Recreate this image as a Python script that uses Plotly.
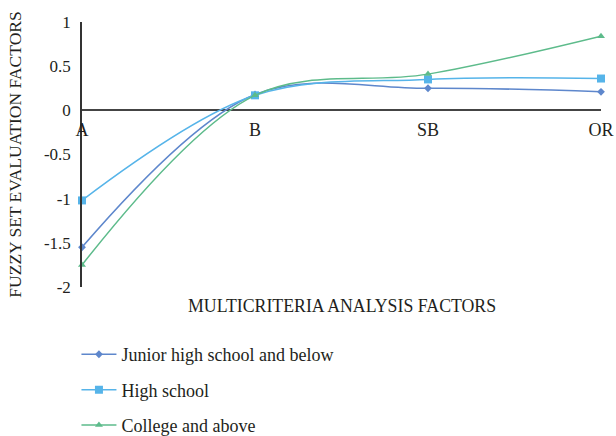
import plotly.graph_objects as go

categories = ["A", "B", "SB", "OR"]
junior = [-1.55, 0.18, 0.25, 0.21]
high_school = [-1.02, 0.17, 0.35, 0.36]
college = [-1.75, 0.17, 0.41, 0.84]

series_names = ["Junior high school and below", "High school", "College and above"]
y_tickvals = [1, 0.5, 0, -0.5, -1, -1.5, -2]
y_ticktext = ["1", "0.5", "0", "-0.5", "-1", "-1.5", "-2"]

colors = ["#5E87CC", "#56B4E9", "#5DBB8B"]
symbols = ["diamond", "square", "triangle-up"]
sizes = [6, 8, 7]
FONT = "Liberation Serif, Times New Roman, serif"
TXT = "#231F20"

fig = go.Figure()
for i, (name, vals) in enumerate(zip(series_names, [junior, high_school, college])):
    fig.add_trace(go.Scatter(
        x=categories, y=vals, name=name, mode="lines+markers",
        line=dict(color=colors[i], width=1.5, shape="spline", smoothing=1.0),
        marker=dict(color=colors[i], symbol=symbols[i], size=sizes[i]),
        legendgroup=f"g{i}", cliponaxis=False,
    ))

fig.update_layout(
    width=616, height=436,
    margin=dict(l=82, r=15, t=22, b=149, autoexpand=False),
    paper_bgcolor="white", plot_bgcolor="white",
    font=dict(family=FONT, size=17, color=TXT),
    showlegend=True,
    legend=dict(x=-0.0107, y=-0.185, xanchor="left", yanchor="top",
                orientation="v", tracegroupgap=9, itemwidth=35,
                font=dict(family=FONT, size=18, color=TXT),
                bgcolor="rgba(0,0,0,0)"),
    xaxis=dict(type="category", range=[0, 3], showgrid=False, showline=False,
               zeroline=False, ticks="", anchor="free", position=2/3,
               automargin=False,
               tickfont=dict(family=FONT, size=18, color=TXT),
               ticklabelstandoff=7),
    yaxis=dict(range=[-2, 1], domain=[0, 1], tickvals=y_tickvals, ticktext=y_ticktext,
               automargin=False,
               showgrid=False, showline=True, linecolor="#333333", linewidth=1.5,
               zeroline=True, zerolinecolor="#444444", zerolinewidth=1.5,
               ticks="", ticklabelstandoff=6,
               tickfont=dict(family=FONT, size=17, color=TXT),
               title=dict(text="FUZZY SET EVALUATION FACTORS", standoff=18,
                          font=dict(family=FONT, size=17.5, color=TXT))),
    annotations=[dict(text="MULTICRITERIA ANALYSIS FACTORS", xref="paper", yref="paper",
                      x=0.5, y=-0.072, xanchor="center", yanchor="middle",
                      showarrow=False, font=dict(family=FONT, size=17.8, color=TXT))],
)

# remove the browser's default 8px page margin so the figure fills the window exactly
fig.write_html("out.html", config={"displayModeBar": False},
               post_script="document.body.style.margin='0';document.body.style.overflow='hidden';")
